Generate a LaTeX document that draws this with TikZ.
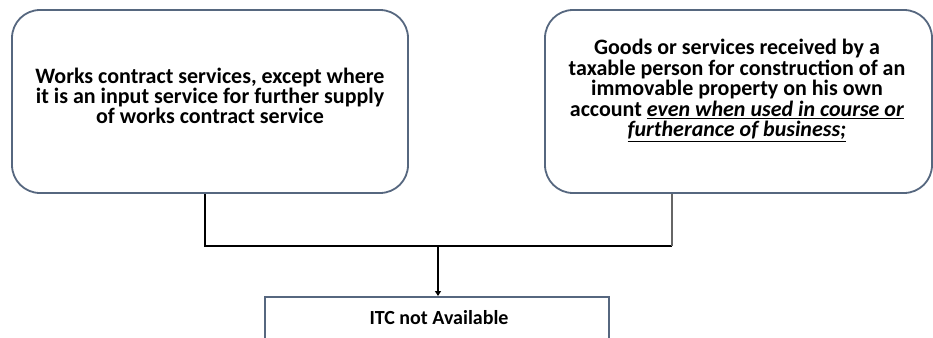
\documentclass[tikz,border=0pt]{standalone}
\usepackage{fontspec}
\setmainfont{Carlito}
\usetikzlibrary{arrows.meta}
\definecolor{boxline}{HTML}{56677F}
\tikzset{
  x=1pt, y=-1pt,
  roundbox/.style={draw=boxline, line width=1.8pt, rounded corners=28pt, fill=white, inner sep=0pt},
  plainbox/.style={draw=boxline, line width=1.8pt, fill=white, inner sep=0pt},
  boxtext/.style={align=center, inner sep=0pt, font=\bfseries\fontsize{22}{20}\selectfont},
  link/.style={line width=1.4pt, black},
}
\begin{document}
\begin{tikzpicture}
\useasboundingbox (0,0) rectangle (933,337);
\begin{scope}
\clip (0,0) rectangle (933,337);
% the two source boxes
\node[roundbox, minimum width=396pt, minimum height=183pt] (works) at (210,101.5) {};
\node[boxtext] (workstext) at (210,95.5)
  {Works contract services, except where\\ it is an input service for further supply\\ of works contract service};
\node[roundbox, minimum width=387pt, minimum height=183pt] (goods) at (738.5,101.5) {};
\node[boxtext, font=\bfseries\fontsize{22}{20.6}\selectfont] (goodstext) at (737,90.5)
  {Goods or services received by a\\ taxable person for construction of an\\ immovable property on his own\\
   account \underline{\textit{even when used in course or}}\\ \underline{\textit{furtherance of business;}}};
% the result box, running off the bottom edge
\node[plainbox, minimum width=344pt, minimum height=50pt, anchor=north] (itc) at (437,296) {};
\node[boxtext, font=\bfseries\fontsize{20}{20}\selectfont] (itctext) at (439,318) {ITC not Available};
% connectors
\coordinate (wj) at (205,246);
\coordinate (gj) at (672,246);
\coordinate (mj) at (438,246);
\draw[link] (works.south -| wj) -- (wj) -- (gj);
\draw[line width=1.4pt, black!60] (gj) -- (goods.south -| gj);
\draw[link, -{Triangle[length=5pt, width=6pt]}] (mj) -- (itc.north -| mj);
\end{scope}
\end{tikzpicture}
\end{document}
